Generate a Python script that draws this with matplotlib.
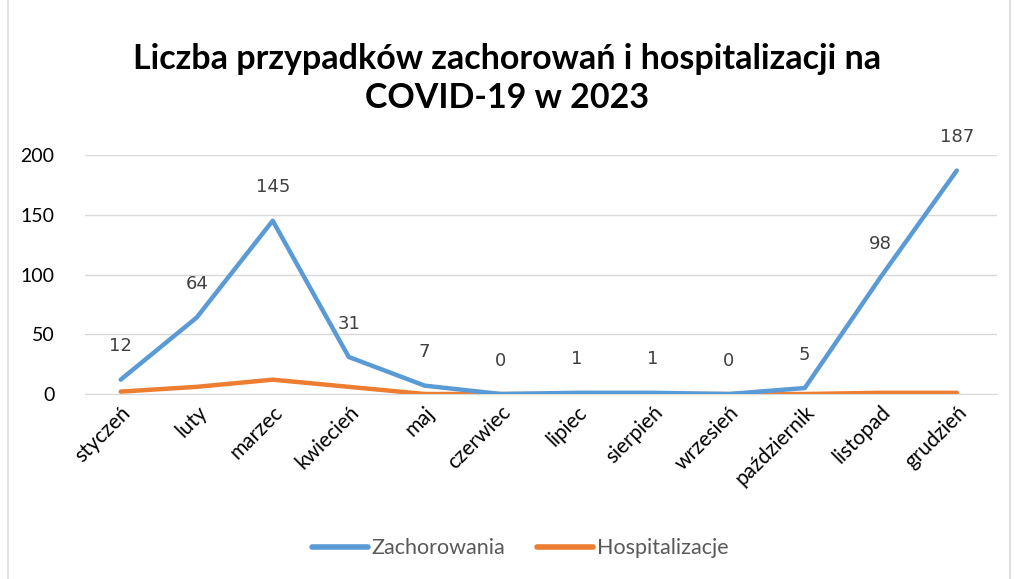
import matplotlib.pyplot as plt
from matplotlib.patches import Rectangle

# dane z wykresu
miesiace = ['styczeń', 'luty', 'marzec', 'kwiecień', 'maj', 'czerwiec', 'lipiec',
            'sierpień', 'wrzesień', 'październik', 'listopad', 'grudzień']
zachorowania = [12, 64, 145, 31, 7, 0, 1, 1, 0, 5, 98, 187]
hospitalizacje = [2, 6, 12, 6, 0, 0, 0, 0, 0, 0, 1, 1]

plt.rcParams['font.family'] = ['Lato', 'DejaVu Sans']

fig = plt.figure(figsize=(10.14, 5.79), dpi=100)
ax = fig.add_axes([0.0838, 0.3195, 0.8995, 0.4128])

x = list(range(len(miesiace)))
ax.plot(x, zachorowania, color='#5B9BD5', lw=3.2, solid_capstyle='round',
        solid_joinstyle='round', label='Zachorowania', zorder=3)
ax.plot(x, hospitalizacje, color='#ED7D31', lw=3.2, solid_capstyle='round',
        solid_joinstyle='round', label='Hospitalizacje', zorder=2)

for xi, v in zip(x, zachorowania):
    ax.annotate(str(v), (xi, v), xytext=(0, 24), textcoords='offset points',
                ha='center', va='center', fontsize=13, color='#404040',
                family=['DejaVu Sans'])

ax.set_xlim(-0.47, 11.53)
ax.set_ylim(0, 200)
ax.set_yticks([0, 50, 100, 150, 200])
ax.yaxis.grid(True, color='#D9D9D9', lw=1)
ax.set_axisbelow(True)
for s in ['top', 'right', 'left']:
    ax.spines[s].set_visible(False)
ax.spines['bottom'].set_color('#D9D9D9')
ax.tick_params(axis='both', length=0, colors='#000000')
ax.tick_params(axis='y', pad=22, labelsize=14)
ax.tick_params(axis='x', pad=6, labelsize=15)
ax.set_xticks(x)
ax.set_xticklabels(miesiace, rotation=45, ha='right', rotation_mode='anchor')

fig.text(0.5, 0.864, 'Liczba przypadków zachorowań i hospitalizacji na\nCOVID-19 w 2023',
         ha='center', va='center', fontsize=24.5, fontweight='bold', linespacing=1.25)

fig.legend(loc='center', bbox_to_anchor=(0.513, 0.053), ncol=2, frameon=False,
           fontsize=15.5, handlelength=2.6, columnspacing=1.5, handletextpad=0.15,
           labelcolor='#595959')
for line in fig.legends[0].get_lines():
    line.set_linewidth(4)

fig.patches.append(Rectangle((0.008, -0.01), 0.988, 1.03, transform=fig.transFigure,
                             fill=False, edgecolor='#D9D9D9', lw=1.2))

fig.savefig('out.png', dpi=100)
